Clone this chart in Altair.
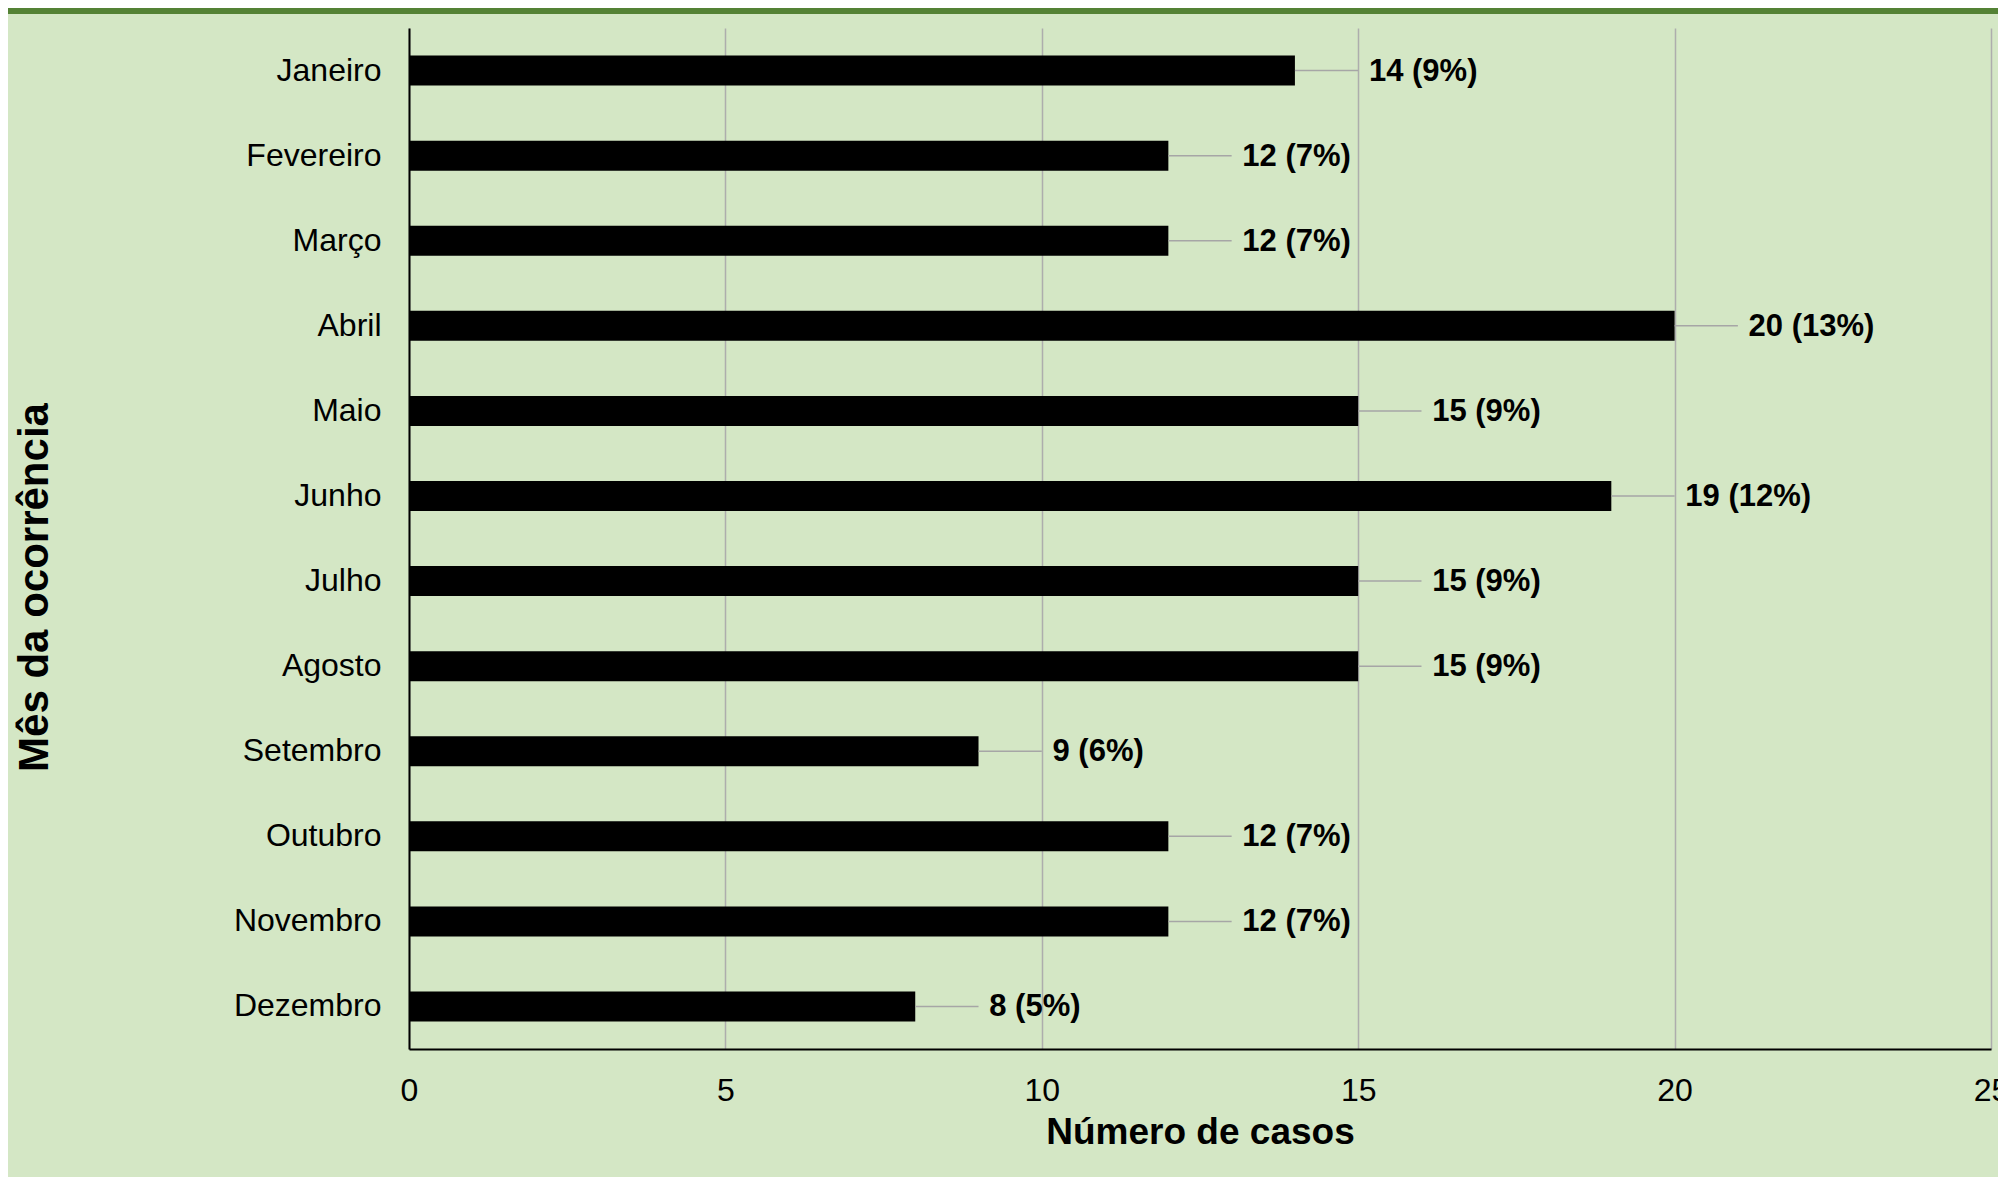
import altair as alt
import pandas as pd

meses = ["Janeiro", "Fevereiro", "Março", "Abril", "Maio", "Junho",
         "Julho", "Agosto", "Setembro", "Outubro", "Novembro", "Dezembro"]
casos = [14, 12, 12, 20, 15, 19, 15, 15, 9, 12, 12, 8]
percentuais = [9, 7, 7, 13, 9, 12, 9, 9, 6, 7, 7, 5]
x_ticks = [0, 5, 10, 15, 20, 25]

df = pd.DataFrame({"mes": meses, "casos": casos, "pct": percentuais})
df["rotulo"] = [f"{c} ({p}%)" for c, p in zip(casos, percentuais)]

FONT = "Liberation Sans"
W, H = 1582, 1021
PAD_L, PAD_T = 401, 20

xscale = alt.Scale(domain=[0, 25], nice=False, zero=True)
yscale = alt.Scale(paddingInner=0, paddingOuter=0)

xaxis = alt.Axis(values=x_ticks, title="Número de casos",
                 grid=True, gridColor="#ADADAD", gridWidth=1.5,
                 domain=True, domainColor="black", domainWidth=2,
                 ticks=False, labelFontSize=32, labelFont=FONT,
                 labelColor="black", labelPadding=26, labelFlush=False,
                 titleFontSize=37, titleFont=FONT, titleFontWeight="bold",
                 titleColor="black", titleX=W / 2, titleY=94,
                 titleAlign="center", titleBaseline="alphabetic")
yaxis = alt.Axis(title="Mês da ocorrência", grid=False, ticks=False,
                 domain=True, domainColor="black", domainWidth=2,
                 labelFontSize=32, labelFont=FONT, labelColor="black",
                 labelPadding=28, labelAlign="right", labelBaseline="middle",
                 titleFontSize=42, titleFont=FONT, titleFontWeight="bold",
                 titleColor="black", titleAngle=270, titleX=-362,
                 titleY=559, titleAlign="center",
                 titleBaseline="alphabetic")

X = alt.X("casos:Q", scale=xscale, axis=xaxis, title="Número de casos")
Y = alt.Y("mes:N", sort=meses, scale=yscale, axis=yaxis, title="Mês da ocorrência")

base = alt.Chart(df)

bars = base.mark_bar(color="black", size=30).encode(x=X, y=Y)

leaders = base.transform_calculate(fim="datum.casos + 1.0").mark_rule(
    color="#A6A6A6", strokeWidth=1.5
).encode(x=X, x2="fim:Q", y=Y)

labels = base.mark_text(align="left", baseline="middle", dx=74, dy=1,
                        fontSize=31, font=FONT, fontWeight="bold",
                        color="black").encode(x=X, y=Y, text="rotulo:N")

topbar = alt.Chart(pd.DataFrame({"k": [0]})).mark_rect(color="#548235").encode(
    x=alt.value(-PAD_L), x2=alt.value(W + 10),
    y=alt.value(-PAD_T), y2=alt.value(-PAD_T + 6),
)

chart = alt.layer(bars, leaders, labels, topbar).properties(
    width=W, height=H,
    background="#D4E7C5",
    padding={"left": PAD_L, "top": PAD_T, "right": 7, "bottom": 128},
    autosize=alt.AutoSizeParams(type="none"),
).configure_view(stroke=None)

chart.save("out.html", embed_options={"renderer": "svg", "actions": False})
